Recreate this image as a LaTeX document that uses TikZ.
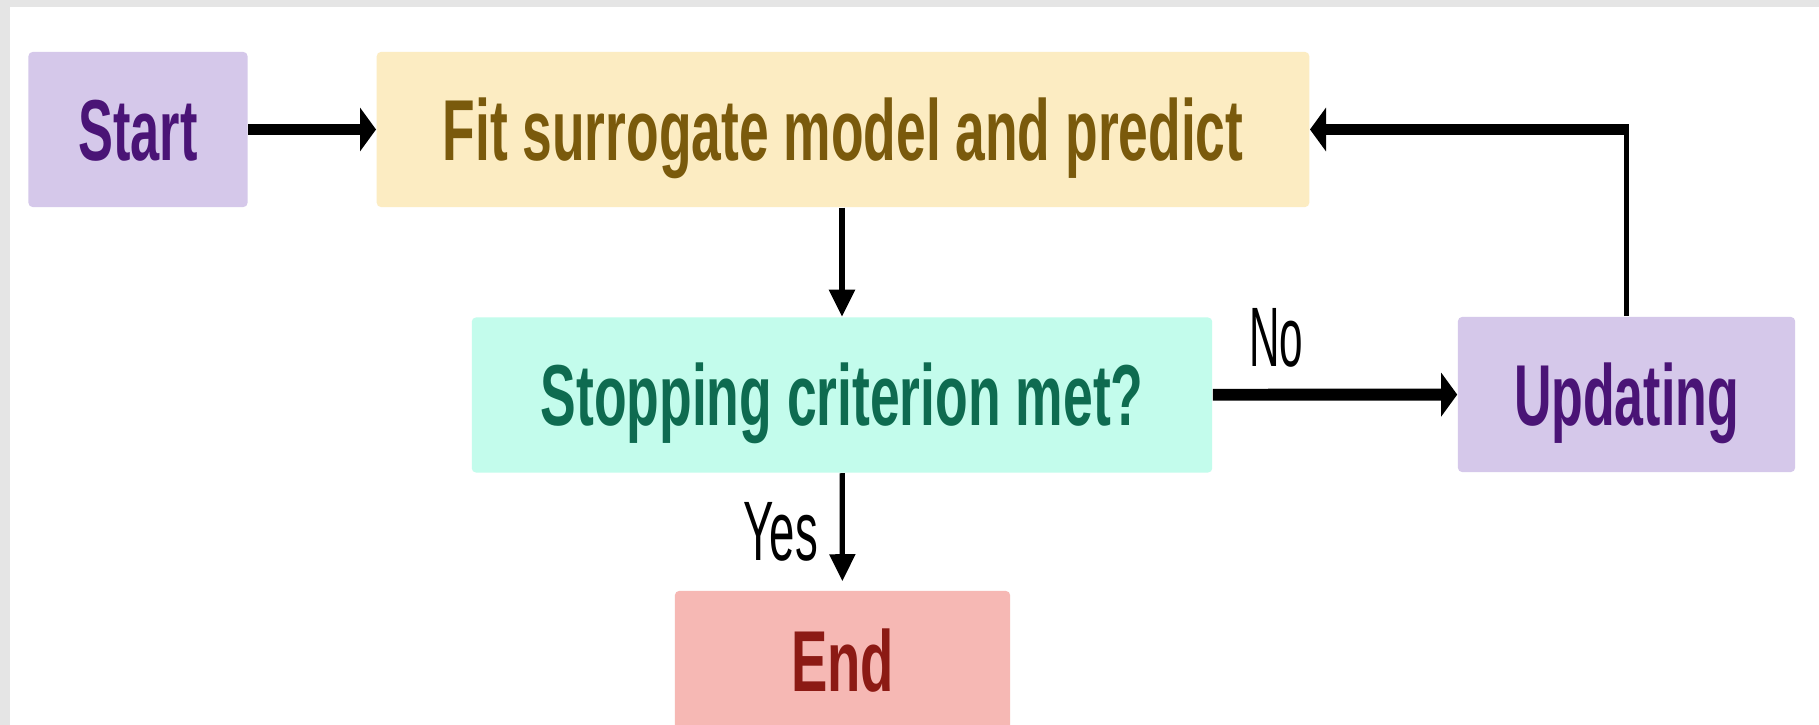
\documentclass[tikz,border=0pt]{standalone}
\usepackage{fontspec}
\setmainfont{Liberation Sans}
\usepackage{xcolor}
\usepackage{graphicx}
\usetikzlibrary{arrows.meta,positioning}
\definecolor{bggray}{HTML}{E5E5E5}
\definecolor{lilac}{HTML}{D5C8EA}
\definecolor{lilactext}{HTML}{4A1476}
\definecolor{sand}{HTML}{FCECC2}
\definecolor{sandtext}{HTML}{7A5A0C}
\definecolor{mint}{HTML}{C3FCEC}
\definecolor{minttext}{HTML}{0E6B50}
\definecolor{rose}{HTML}{F6B8B4}
\definecolor{rosetext}{HTML}{8C1A14}
\def\sq#1#2{\scalebox{#1}[1]{#2}}
\tikzstyle{box}=[rounded corners=1.2pt,inner sep=0pt,minimum height=1.55cm,font=\fontsize{24.6}{28}\selectfont\bfseries,text height=17.6pt,text depth=0pt]
\tikzstyle{lbl}=[font=\fontsize{24}{28}\selectfont,text=black]
\tikzstyle{fat}=[line width=3.4pt,-{Triangle[length=0.16cm,width=0.43cm]}]
\tikzstyle{slim}=[line width=1.5pt,-{Triangle[length=0.27cm,width=0.25cm]}]

\begin{document}
\begin{tikzpicture}[x=0.01cm,y=-0.01cm]
    \useasboundingbox (0,0) rectangle (1819,725);
    \clip (0,0) rectangle (1819,725);
    \fill[bggray] (0,0) rectangle (1819,725);
    \fill[white] (10,7) rectangle (1819,725);
    \node[box,fill=lilac,text=lilactext,minimum width=2.19cm] (start) at (138,129.5) {\sq{0.605}{Start}};
    \node[box,fill=sand,text=sandtext,minimum width=9.32cm] (fit) at (843,129.5) {\sq{0.617}{Fit surrogate model and predict}};
    \node[box,fill=mint,text=minttext,minimum width=7.40cm] (stop) at (842,395) {\sq{0.618}{Stopping criterion met?}};
    \node[box,fill=lilac,text=lilactext,minimum width=3.37cm] (upd) at (1626.5,394.5) {\sq{0.6}{Updating}};
    \node[box,fill=rose,text=rosetext,minimum width=3.35cm,minimum height=1.4cm] (end) at (842.5,661) {\sq{0.63}{End}};
    \draw[fat] (start) -- (fit);
    \draw[slim] (fit.south -| stop.north) -- (stop);
    \draw[fat] (stop) -- node[lbl,pos=0.26,above,yshift=0.1cm] {\sq{0.5}{No}} (upd);
    \draw[slim,shorten >=0.09cm] (stop) -- node[lbl,left,xshift=-0.1cm] {\sq{0.54}{Yes}} (end);
    \draw[line width=1.4pt] (upd.north) -- (upd.north |- fit.east);
    \draw[fat] ([xshift=0.7pt]upd.north |- fit.east) -- (fit.east);
  \end{tikzpicture}
\end{document}
